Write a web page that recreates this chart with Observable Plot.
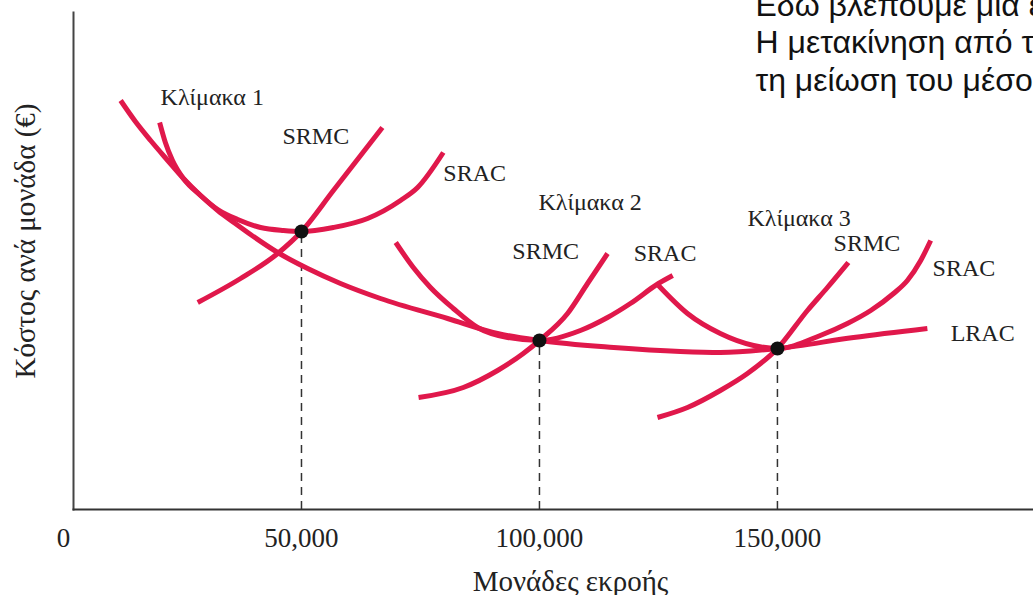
<!DOCTYPE html>
<html>
<head>
<meta charset="utf-8">
<script src="https://cdn.jsdelivr.net/npm/d3@7"></script>
<script src="https://cdn.jsdelivr.net/npm/@observablehq/plot@0.6"></script>
<style>
  html, body { margin: 0; padding: 0; background: #fff; overflow: hidden; }
  #chart svg { display: block; }
</style>
</head>
<body>
<div id="chart"></div>
<script>
// x: units of output, y: cost per unit (arbitrary index)
const lrac  = [[12000,81.8],[15100,77.6],[18300,73.8],[21900,69.8],[25200,66.2],[28800,62.8],[32400,59.8],[36100,57.2],[39300,55.0],[45000,51.4],[51300,48.2],[58200,45.2],[66600,42.2],[80700,38.2],[91200,35.2],[100000,33.8],[115600,32.4],[129600,31.6],[138000,31.4],[150000,32.2],[166000,34.4],[181500,36.2]];
const srac1 = [[20200,77.4],[21400,73.4],[22900,69.8],[25200,66.2],[28800,62.8],[32400,60.0],[36600,58.0],[41400,56.4],[46200,55.8],[50000,55.6],[56700,56.4],[63900,58.2],[70800,61.8],[74400,64.4],[79800,71.4]];
const srmc1 = [[28200,41.4],[37200,46.2],[45000,51.2],[50000,55.6],[56700,63.8],[67000,76.4]];
const srac2 = [[69800,53.4],[73500,48.4],[77100,44.4],[81900,40.2],[87000,36.4],[93300,34.4],[100000,33.8],[108600,35.8],[114300,38.4],[119100,41.2],[125000,45.2],[128000,46.8]];
const srmc2 = [[74600,22.4],[84000,24.4],[91200,27.8],[96600,31.2],[100000,33.8],[105900,39.2],[110100,45.2],[114300,51.2]];
const srac3 = [[125000,44.8],[131100,39.2],[138000,35.2],[145000,32.8],[150000,32.2],[159000,34.8],[164700,37.2],[169600,39.8],[174400,43.2],[177300,45.8],[180100,49.8],[182200,53.8]];
const srmc3 = [[124800,18.4],[131100,20.4],[138000,23.8],[143700,27.2],[150000,32.2],[156300,39.8],[160500,44.4],[164900,49.4]];

const optimum = [{x: 50000, y: 55.6}, {x: 100000, y: 33.8}, {x: 150000, y: 32.2}];
const xTicks = [0, 50000, 100000, 150000];

const curveLabels = [
  {text: "Κλίμακα 1", x: 20400,  y: 81.0},
  {text: "SRMC",      x: 46000,  y: 73.2},
  {text: "SRAC",      x: 79800,  y: 65.8},
  {text: "Κλίμακα 2", x: 99800,  y: 60.0},
  {text: "SRMC",      x: 94300,  y: 50.2},
  {text: "SRAC",      x: 119800, y: 49.8},
  {text: "Κλίμακα 3", x: 143700, y: 56.8},
  {text: "SRMC",      x: 161800, y: 51.8},
  {text: "SRAC",      x: 182600, y: 46.8},
  {text: "LRAC",      x: 186400, y: 33.8}
];

const xTitle = "Μονάδες εκροής";
const yTitle = "Κόστος ανά μονάδα (€)";
const topNote = ["Εδώ βλέπουμε μια ε", "Η μετακίνηση από τ", "τη μείωση του μέσου"];

const series = [
  ["LRAC", lrac], ["SRAC1", srac1], ["SRMC1", srmc1],
  ["SRAC2", srac2], ["SRMC2", srmc2], ["SRAC3", srac3], ["SRMC3", srmc3]
].flatMap(([id, pts]) => pts.map(([x, y]) => ({id, x, y})));

const RED = "#e0184b";
const INK = "#222";

const chart = Plot.plot({
  width: 1033,
  height: 595,
  marginLeft: 73,
  marginRight: 0,
  marginTop: 12,
  marginBottom: 86,
  x: {domain: [2100, 203800], axis: null},
  y: {domain: [0, 99.4], axis: null},
  style: {background: "#fff", fontFamily: "'Liberation Serif', 'Times New Roman', serif", color: INK},
  marks: [
    Plot.ruleX(optimum, {x: "x", y1: 0, y2: "y", stroke: "#333", strokeWidth: 1.5, strokeDasharray: "8,6"}),
    Plot.line(series, {x: "x", y: "y", z: "id", stroke: RED, strokeWidth: 5, curve: "monotone-x", strokeLinecap: "butt"}),
    Plot.dot(optimum, {x: "x", y: "y", r: 7, fill: "#111", stroke: "none"}),
    Plot.frame({anchor: "left", stroke: "#444", strokeWidth: 2}),
    Plot.frame({anchor: "bottom", stroke: "#333", strokeWidth: 2}),
    Plot.axisX({ticks: xTicks, tickFormat: d3.format(","), tickSize: 0, tickPadding: 18, fontSize: 27, label: null}),
    Plot.text(curveLabels, {x: "x", y: "y", text: "text", textAnchor: "start", lineAnchor: "bottom", fontSize: 24, fill: INK}),
    Plot.text([xTitle], {frameAnchor: "bottom", textAnchor: "middle", dx: 17, dy: 81, lineAnchor: "bottom", fontSize: 29, fill: INK}),
    Plot.text([yTitle], {frameAnchor: "left", textAnchor: "middle", rotate: -90, dx: -48, dy: -20, fontSize: 29, fill: INK}),
    Plot.text([topNote.join("\n")], {frameAnchor: "top-left", textAnchor: "start", dx: 682, dy: 78, lineAnchor: "bottom", lineHeight: 1.17, fontSize: 32, fill: "#111", fontFamily: "'Liberation Sans', Arial, sans-serif"})
  ]
});
document.getElementById("chart").appendChild(chart);
</script>
</body>
</html>
